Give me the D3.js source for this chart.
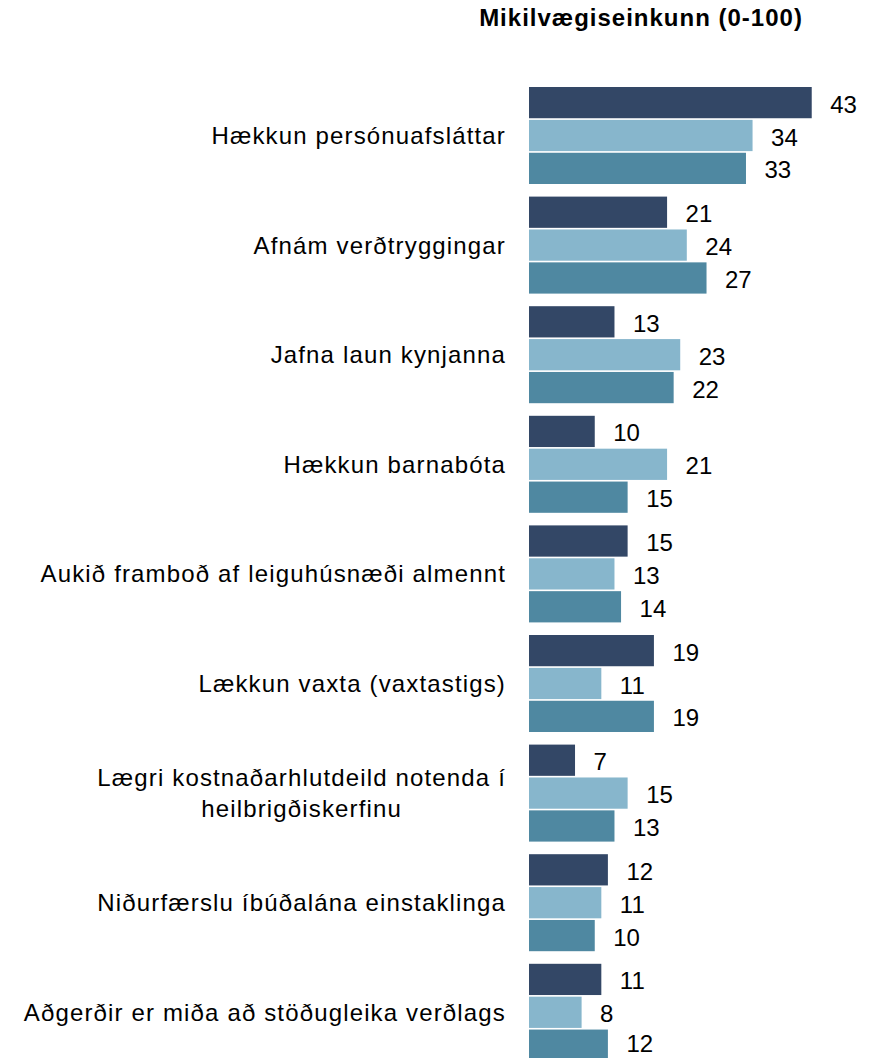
<!DOCTYPE html>
<html>
<head>
<meta charset="utf-8">
<script src="https://cdn.jsdelivr.net/npm/d3@7"></script>
<style>
  body { margin: 0; background: #fff; }
  text { font-family: "Liberation Sans", Arial, sans-serif; fill: #000; }
</style>
</head>
<body>
<svg></svg>
<script>
var categories = [
    ['Hækkun persónuafsláttar'],
    ['Afnám verðtryggingar'],
    ['Jafna laun kynjanna'],
    ['Hækkun barnabóta'],
    ['Aukið framboð af leiguhúsnæði almennt'],
    ['Lækkun vaxta (vaxtastigs)'],
    ['Lægri kostnaðarhlutdeild notenda í', 'heilbrigðiskerfinu'],
    ['Niðurfærslu íbúðalána einstaklinga'],
    ['Aðgerðir er miða að stöðugleika verðlags']
];
var series = ['s1', 's2', 's3'];
var s1 = [43, 21, 13, 10, 15, 19, 7, 12, 11];
var s2 = [34, 24, 23, 21, 13, 11, 15, 11, 8];
var s3 = [33, 27, 22, 15, 14, 19, 13, 10, 12];
var colors = ['#334766', '#87b6cc', '#4f88a1'];
var title = 'Mikilvægiseinkunn (0-100)';

var svg = d3.select('svg')
    .attr('width', 876)
    .attr('height', 1058),
    width = +svg.attr('width'),
    height = +svg.attr('height');

var values = [s1, s2, s3];
var rows = categories.map((c, i) => ({
    label: c,
    vals: series.map((s, j) => ({key: s, value: values[j][i], idx: j, row: i}))
}));

var pad = 12.6 / 109.6;
var y = d3.scaleBand()
    .domain(d3.range(categories.length))
    .range([80.7, 80.7 + 9 * 109.6])
    .paddingInner(pad)
    .paddingOuter(pad / 2);

var yInner = d3.scaleBand()
    .domain(series)
    .range([0, y.bandwidth()])
    .paddingInner(0.05);

var x = d3.scaleLinear()
    .domain([0, 50])
    .range([529, 529 + 50 * 6.575]);

svg.append('text')
    .attr('x', 641)
    .attr('y', 26)
    .attr('text-anchor', 'middle')
    .style('font-size', '24px')
    .style('font-weight', 'bold')
    .style('letter-spacing', '1px')
    .text(title);

let groups = svg.append('g')
    .selectAll('g')
    .data(rows)
    .enter()
    .append('g')
        .attr('transform', (d, i) => 'translate(0,' + y(i) + ')');

groups.selectAll('rect')
    .data((d) => d.vals)
    .enter()
    .append('rect')
        .attr('x', x(0))
        .attr('y', (d) => yInner(d.key))
        .attr('width', (d) => x(d.value) - x(0))
        .attr('height', yInner.bandwidth())
        .attr('fill', (d) => colors[d.idx]);

// value labels; keep the last one inside the picture (bar is clipped there)
groups.selectAll('text.val')
    .data((d) => d.vals)
    .enter()
    .append('text')
        .attr('class', 'val')
        .attr('x', (d) => x(d.value) + 18.5)
        .attr('y', (d) => {
            let yy = yInner(d.key) + yInner.bandwidth() / 2 + 10;
            return Math.min(yy, height - 6 - y(d.row));
        })
        .style('font-size', '24px')
        .text((d) => d.value);

// category labels: block right-aligned at 506, lines centred within block
groups.append('text')
    .attr('text-anchor', 'middle')
    .style('font-size', '24px')
    .style('letter-spacing', '1.15px')
    .each(function(d){
        let t = d3.select(this);
        let mid = y.bandwidth() / 2;
        let n = d.label.length;
        let spans = d.label.map((line, k) => t.append('tspan')
            .attr('y', mid + 8.5 + (k - (n - 1) / 2) * 30.5)
            .text(line));
        let w = d3.max(spans, (s) => s.node().getComputedTextLength());
        spans.forEach((s) => s.attr('x', 506 - w / 2));
    });
</script>
</body>
</html>
